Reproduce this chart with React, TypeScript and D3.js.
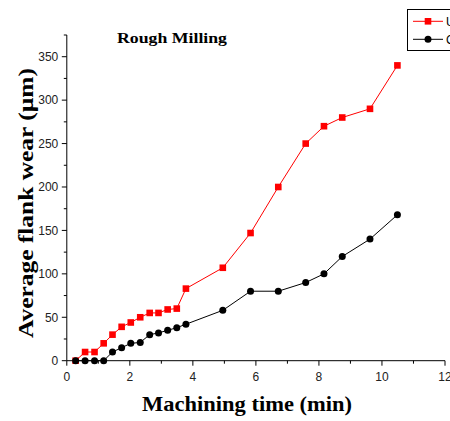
import React from "react";
import * as d3 from "d3";

const times = [0.28, 0.58, 0.88, 1.17, 1.45, 1.74, 2.03, 2.33, 2.63, 2.91, 3.2, 3.49, 3.78, 4.95, 5.83, 6.71, 7.58, 8.16, 8.74, 9.62, 10.49];
const untreated = [0, 10, 10, 20, 30, 39, 44, 50, 55, 55, 59, 60, 83, 107, 147, 200, 250, 270, 280, 290, 340];
const cryo = [0, 0, 0, 0, 10, 15, 20, 21, 30, 32, 35, 38, 42, 58, 80, 80, 90, 100, 120, 140, 168];
const xTicks = [0, 2, 4, 6, 8, 10, 12];
const yTicks = [0, 50, 100, 150, 200, 250, 300, 350];
const seriesNames = ["Untreated", "Cryo-treated"];

export default function App() {
  const W = 450, H = 421;
  const x = d3.scaleLinear().domain([0, 12]).range([66.8, 445]);
  const y = d3.scaleLinear().domain([0, 375]).range([360.7, 35]);
  const line = d3.line<[number, number]>().x(d => x(d[0])).y(d => y(d[1]));
  const redPts: [number, number][] = times.map((t, i) => [t, untreated[i]]);
  const blkPts: [number, number][] = times.map((t, i) => [t, cryo[i]]);
  const xMinor = d3.range(0, 12.01, 1);
  const yMinor = d3.range(0, 376, 25);
  const tickFont = "Liberation Sans, Arial, sans-serif";
  const serif = "Liberation Serif, Times New Roman, serif";
  return (
    <svg width={W} height={H} style={{ position: "absolute", left: 0, top: 0 }}>
      <rect width={W} height={H} fill="#fff" />
      {/* axes */}
      <line x1={x(0)} x2={x(0)} y1={y(375)} y2={y(0)} stroke="#000" strokeWidth={1} />
      <line x1={x(0)} x2={x(12)} y1={y(0)} y2={y(0)} stroke="#000" strokeWidth={1} />
      {yMinor.map(v => (
        <line key={"ym" + v} x1={x(0)} x2={x(0) - (v % 50 === 0 ? 5 : 3)} y1={y(v)} y2={y(v)} stroke="#000" />
      ))}
      {xMinor.map(v => (
        <line key={"xm" + v} x1={x(v)} x2={x(v)} y1={y(0)} y2={y(0) + (v % 2 === 0 ? 5 : 3)} stroke="#000" />
      ))}
      {yTicks.map(v => (
        <text key={"yt" + v} x={x(0) - 8.5} y={y(v)} dy="0.36em" textAnchor="end" fontFamily={tickFont} fontSize={12} fill="#222">{v}</text>
      ))}
      {xTicks.map(v => (
        <text key={"xt" + v} x={x(v)} y={380.6} textAnchor="middle" fontFamily={tickFont} fontSize={12} fill="#222">{v}</text>
      ))}
      {/* series */}
      <path d={line(redPts) || ""} fill="none" stroke="#ff0000" strokeWidth={1} />
      <path d={line(blkPts) || ""} fill="none" stroke="#000" strokeWidth={1} />
      {redPts.map((p, i) => (
        <rect key={"r" + i} x={x(p[0]) - 3.3} y={y(p[1]) - 3.3} width={6.6} height={6.6} fill="#ff0000" />
      ))}
      {blkPts.map((p, i) => (
        <circle key={"b" + i} cx={x(p[0])} cy={y(p[1])} r={3.5} fill="#000" />
      ))}
      {/* title */}
      <text x={117} y={43} textLength={110} lengthAdjust="spacingAndGlyphs" fontFamily={serif} fontWeight="bold" fontSize={15} fill="#000">Rough Milling</text>
      {/* axis labels */}
      <text x={247} y={411} textAnchor="middle" textLength={210} lengthAdjust="spacingAndGlyphs" fontFamily={serif} fontWeight="bold" fontSize={21} fill="#000">Machining time (min)</text>
      <text transform="translate(33,203) rotate(-90)" textAnchor="middle" textLength={270} lengthAdjust="spacingAndGlyphs" fontFamily={serif} fontWeight="bold" fontSize={21} fill="#000">Average flank wear (µm)</text>
      {/* legend */}
      <rect x={407.5} y={9.5} width={60} height={41} fill="#fff" stroke="#000" strokeWidth={1} />
      <line x1={413} x2={443} y1={21.3} y2={21.3} stroke="#ff0000" />
      <rect x={428 - 3.3} y={21.3 - 3.3} width={6.6} height={6.6} fill="#ff0000" />
      <text x={446} y={21.3} dy="0.36em" fontFamily={tickFont} fontSize={12} fill="#000">{seriesNames[0]}</text>
      <line x1={413} x2={443} y1={39.3} y2={39.3} stroke="#000" />
      <circle cx={428} cy={39.3} r={3.5} fill="#000" />
      <text x={446} y={39.3} dy="0.36em" fontFamily={tickFont} fontSize={12} fill="#000">{seriesNames[1]}</text>
    </svg>
  );
}
